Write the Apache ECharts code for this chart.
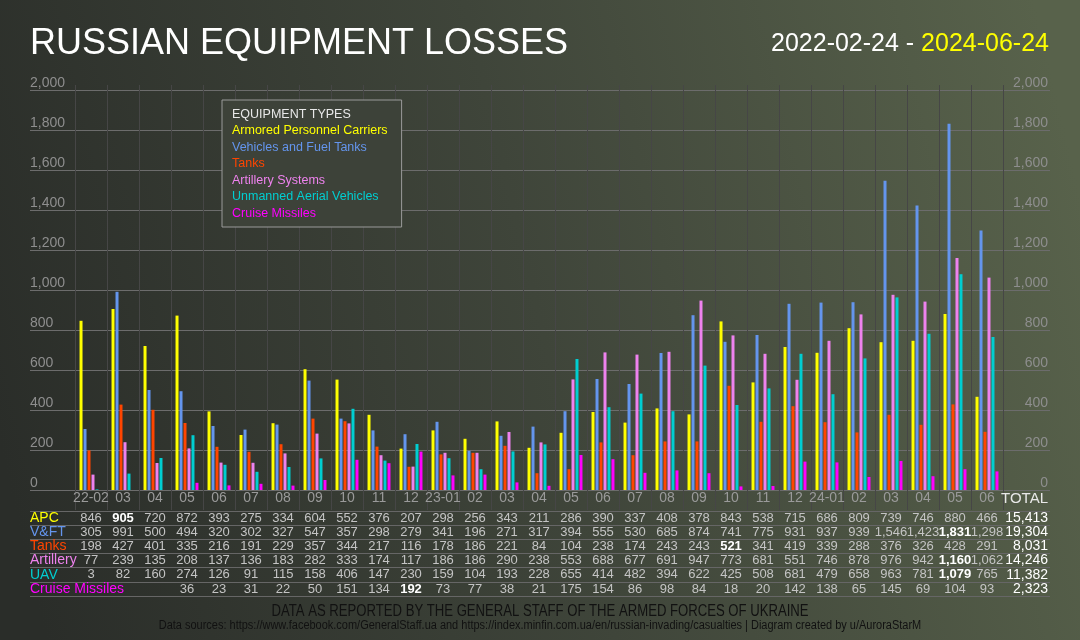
<!DOCTYPE html>
<html lang="en">
<head>
	<meta charset="UTF-8">
	<title>Russian equipment losses</title>
	<style type="text/css">
		html, body { margin: 0; padding: 0; }
		#main { width: 1080px; height: 640px; }
	</style>
</head>
<body>
	<div id="main"></div>
	<script type="text/javascript" src="https://cdn.jsdelivr.net/npm/echarts@6.0.0/dist/echarts.min.js"></script>
	<script type="text/javascript">
		var months = ['22-02', '03', '04', '05', '06', '07', '08', '09', '10', '11', '12',
			'23-01', '02', '03', '04', '05', '06', '07', '08', '09', '10', '11', '12',
			'24-01', '02', '03', '04', '05', '06'];

		var apc = [846, 905, 720, 872, 393, 275, 334, 604, 552, 376, 207, 298, 256, 343, 211,
			286, 390, 337, 408, 378, 843, 538, 715, 686, 809, 739, 746, 880, 466];
		var vehicles = [305, 991, 500, 494, 320, 302, 327, 547, 357, 298, 279, 341, 196, 271, 317,
			394, 555, 530, 685, 874, 741, 775, 931, 937, 939, 1546, 1423, 1831, 1298];
		var tanks = [198, 427, 401, 335, 216, 191, 229, 357, 344, 217, 116, 178, 186, 221, 84,
			104, 238, 174, 243, 243, 521, 341, 419, 339, 288, 376, 326, 428, 291];
		var artillery = [77, 239, 135, 208, 137, 136, 183, 282, 333, 174, 117, 186, 186, 290, 238,
			553, 688, 677, 691, 947, 773, 681, 551, 746, 878, 976, 942, 1160, 1062];
		var uav = [3, 82, 160, 274, 126, 91, 115, 158, 406, 147, 230, 159, 104, 193, 228,
			655, 414, 482, 394, 622, 425, 508, 681, 479, 658, 963, 781, 1079, 765];
		var cruise = [null, null, null, 36, 23, 31, 22, 50, 151, 134, 192, 73, 77, 38, 21,
			175, 154, 86, 98, 84, 18, 20, 142, 138, 65, 145, 69, 104, 93];

		var seriesNames = ['Armored Personnel Carriers', 'Vehicles and Fuel Tanks', 'Tanks',
			'Artillery Systems', 'Unmanned Aerial Vehicles', 'Cruise Missiles'];
		var rowNames = ['APC', 'V&FT', 'Tanks', 'Artillery', 'UAV', 'Cruise Missiles'];
		var totals = ['15,413', '19,304', '8,031', '14,246', '11,382', '2,323'];
		var colors = ['#ffff00', '#6495ed', '#ff4500', '#ee82ee', '#00ced1', '#ff00ff'];

		var rows = [apc, vehicles, tanks, artillery, uav, cruise];

		function fmt(v) {
			return v == null ? '' : v.toLocaleString('en-US');
		}

		var chart = echarts.init(document.getElementById('main'));

		// one extra x axis per table row, sharing the bar columns
		var rowCenters = [518, 532.2, 546.4, 560.6, 574.8, 589];
		var xAxes = [{
			type: 'category',
			gridIndex: 0,
			data: months,
			axisLine: { show: false },
			axisTick: { show: true, interval: 0, length: 20, lineStyle: { color: '#464646' } },
			splitLine: { show: true, interval: 0, lineStyle: { color: '#464646' } },
			axisLabel: { interval: 0, margin: 1, color: '#9a9a9a', fontSize: 14, lineHeight: 14, fontFamily: 'Liberation Sans' }
		}];
		rows.forEach(function (row, r) {
			var maxIdx = row.indexOf(Math.max.apply(null, row.filter(function (v) { return v != null; })));
			xAxes.push({
				type: 'category',
				gridIndex: 0,
				position: 'bottom',
				offset: rowCenters[r] - 7 - 490,
				data: months,
				axisLine: { show: false },
				axisTick: { show: false },
				axisLabel: {
					interval: 0,
					margin: 0,
					color: '#c4c4c4',
					fontSize: 13,
					lineHeight: 14,
					fontFamily: 'Liberation Sans',
					formatter: function (value, index) {
						var s = fmt(row[index]);
						return index === maxIdx ? '{b|' + s + '}' : s;
					},
					rich: {
						b: { fontWeight: 'bold', color: '#ffffff', fontSize: 13, lineHeight: 14, fontFamily: 'Liberation Sans' }
					}
				}
			});
		});
		xAxes.push({ type: 'value', gridIndex: 1, show: false, min: 0, max: 1 });
		xAxes.push({ type: 'value', gridIndex: 2, show: false, min: 0, max: 1 });

		var option = {
			backgroundColor: new echarts.graphic.LinearGradient(0, 0.7, 1, 0.3, [
				{ offset: 0, color: '#2a2d29' },
				{ offset: 0.5, color: '#3f453a' },
				{ offset: 1, color: '#58624b' }
			]),
			textStyle: { fontFamily: 'Liberation Sans' },
			tooltip: { trigger: 'axis', axisPointer: { type: 'shadow' } },
			legend: {
				orient: 'vertical',
				left: 222,
				top: 100,
				padding: [24, 14, 7, 5],
				icon: 'none',
				itemWidth: 0,
				itemHeight: 14,
				itemGap: 3,
				backgroundColor: '#3d4239',
				borderColor: '#9a9a9a',
				borderWidth: 1,
				textStyle: { fontSize: 12.5, fontFamily: 'Liberation Sans' },
				data: seriesNames.map(function (n, i) {
					return { name: n, textStyle: { color: colors[i] } };
				})
			},
			grid: [
				{ left: 75, right: 77, top: 85, bottom: 150 },
				{ left: 30, right: 30, top: 90, bottom: 150 },
				{ left: 30, right: 30, top: 511, height: 85 }
			],
			xAxis: xAxes,
			yAxis: [
				{ type: 'value', gridIndex: 0, min: 0, max: 2025, show: false },
				{
					type: 'value', gridIndex: 1, position: 'left', min: 0, max: 2000, interval: 200,
					axisLine: { show: false }, axisTick: { show: false },
					splitLine: { lineStyle: { color: '#6c6c6c' } },
					axisLabel: {
						inside: true, margin: 0, align: 'left', verticalAlign: 'bottom',
						color: '#8e8e8e', fontSize: 14,
						formatter: function (v) { return v.toLocaleString('en-US'); }
					}
				},
				{
					type: 'value', gridIndex: 1, position: 'right', min: 0, max: 2000, interval: 200,
					axisLine: { show: false }, axisTick: { show: false }, splitLine: { show: false },
					axisLabel: {
						inside: true, margin: 2, align: 'right', verticalAlign: 'bottom',
						color: '#8e8e8e', fontSize: 14,
						formatter: function (v) { return v.toLocaleString('en-US'); }
					}
				},
				{
					type: 'category', gridIndex: 2, position: 'left', inverse: true, data: rowNames,
					axisLine: { show: false }, axisTick: { show: false },
					splitLine: { show: true, interval: 0, lineStyle: { color: '#666666' } },
					axisLabel: {
						inside: true, margin: 0, align: 'left', fontSize: 14, interval: 0,
						color: function (v, i) { return colors[i]; }
					}
				},
				{
					type: 'category', gridIndex: 2, position: 'right', inverse: true, data: totals,
					axisLine: { show: false }, axisTick: { show: false }, splitLine: { show: false },
					axisLabel: { inside: true, margin: 2, align: 'right', fontSize: 14, interval: 0, color: '#ffffff' }
				}
			],
			series: rows.map(function (row, i) {
				return {
					name: seriesNames[i],
					type: 'bar',
					xAxisIndex: 0,
					yAxisIndex: 0,
					barWidth: 3,
					barGap: '33%',
					itemStyle: { color: colors[i] },
					data: row
				};
			}),
			graphic: [
				{
					type: 'text', left: 30, top: 26, z: 10,
					style: { text: 'RUSSIAN EQUIPMENT LOSSES', fill: '#ffffff', fontSize: 36, fontFamily: 'Liberation Sans' }
				},
				{
					type: 'text', right: 31, top: 32, z: 10,
					style: {
						text: '{w|2022-02-24 - }{y|2024-06-24}',
						rich: {
							w: { fill: '#ffffff', fontSize: 25, fontFamily: 'Liberation Sans' },
							y: { fill: '#ffff00', fontSize: 25, fontFamily: 'Liberation Sans' }
						}
					}
				},
				{
					type: 'text', left: 232, top: 108, z: 10,
					style: { text: 'EQUIPMENT TYPES', fill: '#e8e8e8', fontSize: 12.5, fontFamily: 'Liberation Sans' }
				},
				{
					type: 'text', right: 32, top: 491, z: 10,
					style: { text: 'TOTAL', fill: '#e8e8e8', fontSize: 15, fontFamily: 'Liberation Sans' }
				},
				{
					// condensed look: Liberation Sans squeezed horizontally
					type: 'text', x: 540, y: 612, scaleX: 0.82, z: 10,
					style: {
						text: 'DATA AS REPORTED BY THE GENERAL STAFF OF THE ARMED FORCES OF UKRAINE',
						fill: '#111111', fontSize: 16, fontFamily: 'Liberation Sans',
						align: 'center', verticalAlign: 'middle'
					}
				},
				{
					type: 'text', x: 540, y: 626, scaleX: 0.915, z: 10,
					style: {
						text: 'Data sources: https://www.facebook.com/GeneralStaff.ua and https://index.minfin.com.ua/en/russian-invading/casualties | Diagram created by u/AuroraStarM',
						fill: '#111111', fontSize: 12, fontFamily: 'Liberation Sans',
						align: 'center', verticalAlign: 'middle'
					}
				}
			]
		};

		chart.setOption(option);
	</script>
</body>
</html>
